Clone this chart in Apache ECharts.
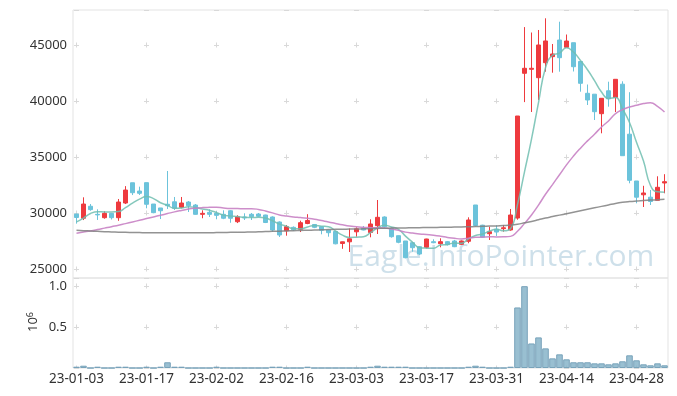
<!DOCTYPE html>
<html><head><meta charset="utf-8">
<script src="https://cdn.jsdelivr.net/npm/echarts@6/dist/echarts.min.js"></script>
<style>html,body{margin:0;padding:0;background:#fff}#c{width:677px;height:396px}</style>
</head><body><div id="c"></div>
<script>
const categories = ['23-01-03','23-01-04','23-01-05','23-01-06','23-01-09','23-01-10','23-01-11','23-01-12','23-01-13','23-01-16',
'23-01-17','23-01-18','23-01-19','23-01-20','23-01-25','23-01-26','23-01-27','23-01-30','23-01-31','23-02-01',
'23-02-02','23-02-03','23-02-06','23-02-07','23-02-08','23-02-09','23-02-10','23-02-13','23-02-14','23-02-15',
'23-02-16','23-02-17','23-02-20','23-02-21','23-02-22','23-02-23','23-02-24','23-02-27','23-02-28','23-03-02',
'23-03-03','23-03-06','23-03-07','23-03-08','23-03-09','23-03-10','23-03-13','23-03-14','23-03-15','23-03-16',
'23-03-17','23-03-20','23-03-21','23-03-22','23-03-23','23-03-24','23-03-27','23-03-28','23-03-29','23-03-30',
'23-03-31','23-04-03','23-04-04','23-04-05','23-04-06','23-04-07','23-04-10','23-04-11','23-04-12','23-04-13',
'23-04-14','23-04-17','23-04-18','23-04-19','23-04-20','23-04-21','23-04-24','23-04-25','23-04-26','23-04-27',
'23-04-28','23-05-02','23-05-03','23-05-04','23-05-08'];

const opens = [29900,29530,30600,29880,29580,29970,29580,30890,32700,31960,
32710,30800,30450,30780,31000,30510,30980,30710,29880,30060,
29970,29880,30200,29220,29643,29884,29910,29821,29643,29196,
28420,28720,28545,29062,28973,28777,28482,28348,27277,27428,
28321,28634,28259,28866,29643,28616,27973,27500,27348,26991,
26937,27438,27259,27438,27500,27205,27473,30714,28911,28152,
28550,28600,28482,29550,42473,42830,42080,43420,43960,45446,
44795,45205,43527,40687,40607,38866,40911,40312,41500,37036,
32857,31626,31411,31134,32679];

const closes = [29600,30800,30300,29830,29970,29580,30980,32050,31810,31760,
30780,30030,30200,30650,30420,30890,30650,29880,29970,29880,
29790,29530,29530,29670,29553,29670,29705,29152,28482,28036,
28780,28500,29134,29330,28723,28455,28241,27250,27428,27696,
28589,28482,29018,29616,28777,27884,27384,26009,26902,26339,
27678,27348,27438,27170,26991,27500,29375,28884,27839,28330,
28300,28680,29821,38660,42920,42920,45000,45360,44200,43866,
45357,43062,41580,40090,39045,40241,40196,41937,35116,32920,
31411,31786,31027,32295,32795];

const highs = [29950,31400,30800,30330,30150,30000,31250,32400,32700,32350,
32710,30800,30450,33750,31430,31430,31070,30800,30240,30330,
30150,30240,30250,29800,29973,30000,30000,29848,29700,29250,
28929,28800,29312,29893,28973,28800,28482,28400,27450,28616,
28723,28839,29437,31160,29700,28700,28000,27500,27400,27050,
27700,27652,27741,27500,27600,27550,29616,30714,28950,28777,
28900,28930,30357,38660,46600,46116,46340,47384,45090,47080,
45937,45205,43527,41473,40607,40241,41723,41937,41759,40786,
32857,32429,32053,33277,33464];

const lows = [29050,29370,30200,29380,29490,29420,29300,30800,31600,31610,
30420,29980,29460,30360,30270,30420,30090,29850,29530,29640,
29440,29450,29130,29100,29375,29375,29650,29100,28330,27857,
27973,28400,28300,29000,28650,28098,27884,27200,26804,26518,
27884,28450,27830,28125,28700,27800,27300,25950,26545,26250,
26848,27300,26937,27100,26950,27150,27300,28800,27800,27589,
27950,28330,28420,29400,39900,39018,40090,42616,42527,42616,
44795,42634,40830,39643,38304,37116,39491,39018,35116,32652,
30866,30536,30714,31134,31759];

const volumes = [16000,28000,0,16000,0,0,16000,16000,0,0,
16000,0,16000,70000,16000,16000,0,0,0,0,
16000,0,0,0,0,0,0,0,16000,16000,
0,0,0,16000,0,0,0,0,0,0,
0,0,16000,28000,16000,16000,16000,16000,0,0,
0,0,0,0,0,0,16000,28000,16000,0,
0,0,16000,740000,1000000,300000,374000,240000,118000,167000,
106000,70000,70000,70000,57000,57000,45000,57000,82000,155000,
94000,45000,33000,57000,33000];

const ma5 = [29200,29550,29950,30120,30100,30096,30132,30482,30878,31236,
31476,31286,30916,30684,30416,30438,30562,30498,30362,30254,
30034,29810,29740,29680,29615,29591,29626,29550,29312,29009,
28831,28590,28586,28756,28893,28828,28777,28400,28019,27814,
27841,27889,28243,28680,28896,28755,28536,27934,27391,26904,
26862,26855,27141,27195,27325,27289,27695,27984,28118,28386,
28546,28407,28594,30758,33676,36600,39864,42972,44080,44269,
44757,44369,43613,42791,41827,40804,40230,40302,39307,38082,
36316,34634,32452,31888,31863];

const ma20 = [28200,28300,28400,28520,28650,28780,28900,29050,29200,29350,
29500,29650,29800,29950,30100,30230,30350,30430,30480,30502,
30511,30448,30409,30401,30380,30385,30321,30176,30010,29823,
29723,29647,29594,29528,29443,29321,29201,29069,28942,28833,
28773,28720,28695,28692,28653,28564,28448,28291,28212,28127,
28072,28014,27929,27821,27735,27687,27744,27825,27846,27878,
27863,27873,27913,28365,29073,29824,30705,31673,32538,33414,
34298,35084,35791,36437,37039,37677,38218,38870,39234,39464,
39619,39774,39835,39516,39010];

const ma120 = [28450,28420,28390,28360,28330,28310,28290,28270,28260,28250,
28240,28240,28230,28230,28230,28230,28230,28240,28240,28240,
28250,28260,28270,28280,28290,28300,28320,28340,28360,28380,
28400,28420,28440,28460,28480,28500,28520,28540,28550,28560,
28570,28590,28600,28620,28640,28650,28660,28670,28680,28690,
28700,28710,28720,28730,28740,28750,28770,28790,28810,28830,
28850,28880,28920,29000,29120,29250,29400,29550,29680,29810,
29940,30070,30200,30330,30460,30590,30720,30850,30950,31020,
31070,31110,31150,31190,31220];

const UP = '#ee3a3e', DOWN = '#6cc3db';
const candleData = categories.map((_, i) => [opens[i], closes[i], lows[i], highs[i]]);
const chart = echarts.init(document.getElementById('c'), null, {renderer: 'canvas'});
const crossColor = '#d9d9d9';
chart.setOption({
  animation: false,
  textStyle: {fontFamily: 'Noto Sans'},
  grid: [
    {left: 73, right: 9, top: 10, height: 268, show: true, borderColor: '#e3e3e3', borderWidth: 1},
    {left: 73, right: 9, top: 278, height: 90, show: true, borderColor: '#e3e3e3', borderWidth: 1}
  ],
  xAxis: [
    {type: 'category', gridIndex: 0, data: categories, boundaryGap: true,
     axisLine: {show: false}, axisTick: {show: false}, axisLabel: {show: false},
     splitLine: {show: true, interval: 9, alignWithLabel: true,
       lineStyle: {color: crossColor, width: 1, type: [5, 51], dashOffset: 23.5}}},
    {type: 'category', gridIndex: 1, data: categories, boundaryGap: true,
     axisLine: {show: false}, axisTick: {show: false},
     axisLabel: {interval: 9, color: '#333', fontSize: 13.5, margin: 4},
     splitLine: {show: true, interval: 9, alignWithLabel: true,
       lineStyle: {color: crossColor, width: 1, type: [5, 36], dashOffset: 35.5}}}
  ],
  yAxis: [
    {type: 'value', gridIndex: 0, min: 24196, max: 48125, scale: true,
     axisLine: {show: false}, axisTick: {show: false},
     axisLabel: {color: '#333', fontSize: 13, margin: 6, showMinLabel: false, showMaxLabel: false,
       formatter: v => String(v)},
     splitLine: {show: true, lineStyle: {color: crossColor, width: 1, type: [5, 65], dashOffset: 69}}},
    {type: 'value', gridIndex: 1, min: 0, max: 1100000, interval: 500000,
     axisLine: {show: false}, axisTick: {show: false},
     axisLabel: {color: '#333', fontSize: 13, margin: 6, showMaxLabel: false,
       formatter: v => (v === 0 || v > 1000000) ? '' : (v / 1e6).toFixed(1)},
     splitLine: {show: true, lineStyle: {color: crossColor, width: 1, type: [5, 65], dashOffset: 69}}}
  ],
  graphic: [
    {type: 'text', x: 501, y: 257, z: 1, silent: true,
     style: {text: 'Eagle.InfoPointer.com', fontSize: 30, fontFamily: 'Open Sans',
       fill: 'rgba(165,198,216,0.55)', align: 'center', verticalAlign: 'middle'}},
    {type: 'text', x: 33, y: 322, rotation: Math.PI / 2, silent: true,
     style: {text: '10{s|6}', fontSize: 13, fontFamily: 'Noto Sans', fill: '#333',
       align: 'center', verticalAlign: 'middle',
       rich: {s: {fontSize: 9, fontFamily: 'Noto Sans', fill: '#333', verticalAlign: 'top', lineHeight: 14}}}}
  ],
  series: [
    {type: 'candlestick', xAxisIndex: 0, yAxisIndex: 0, data: candleData, barWidth: 5,
     itemStyle: {color: UP, color0: DOWN, borderColor: UP, borderColor0: DOWN, borderWidth: 1}},
    {type: 'line', xAxisIndex: 0, yAxisIndex: 0, data: ma5, smooth: true, symbol: 'none',
     lineStyle: {width: 1.5, color: 'rgba(112,190,176,0.85)'}},
    {type: 'line', xAxisIndex: 0, yAxisIndex: 0, data: ma20, smooth: true, symbol: 'none',
     lineStyle: {width: 1.5, color: 'rgba(200,130,196,0.9)'}},
    {type: 'line', xAxisIndex: 0, yAxisIndex: 0, data: ma120, smooth: true, symbol: 'none',
     lineStyle: {width: 1.5, color: 'rgba(128,128,128,0.85)'}},
    {type: 'bar', xAxisIndex: 1, yAxisIndex: 1, data: volumes, barCategoryGap: '6%',
     itemStyle: {color: 'rgba(128,175,198,0.8)', borderColor: '#78a3ba', borderWidth: 1}}
  ]
});
</script></body></html>
